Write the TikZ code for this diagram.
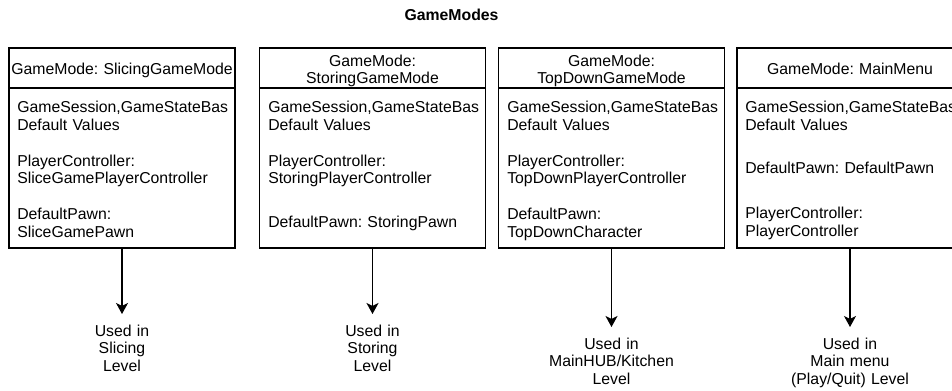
\documentclass[tikz,border=0pt]{standalone}
\usepackage{fontspec}
\setmainfont{Liberation Sans}
\usetikzlibrary{arrows.meta}
\frenchspacing
\begin{document}
\begin{tikzpicture}[x=0.75pt,y=-0.75pt,
  every node/.style={inner sep=0pt, font=\fontsize{11.85pt}{13.35pt}\selectfont},
  frame/.style={draw, line width=0.8pt, minimum width=169.5pt},
  head/.style={frame, minimum height=30pt},
  bodybox/.style={frame, minimum height=120pt},
  headtext/.style={anchor=base, text width=168pt, align=center,
    font=\fontsize{11.85pt}{12.75pt}\selectfont},
  bodytext/.style={anchor=base west, text width=163.5pt, align=left},
  usage/.style={anchor=north, text width=150pt, align=center, inner ysep=7.8pt},
  flow/.style={-{Stealth[length=8.25pt,width=9pt,inset=2.2pt]}, line width=0.8pt}
]
\useasboundingbox (0,0) rectangle (952,391);
\clip (0,0) rectangle (952,391);

% title
\node[anchor=base, font=\fontsize{11.85pt}{13.35pt}\selectfont\bfseries] (title) at (451.5,21) {GameModes};

% --- Slicing game mode
\node[head] (h1) at (122,68) {};
\node[bodybox] (b1) at (122,168) {};
\node[headtext] (ht1) at (122,74.5) {GameMode: SlicingGameMode};
\node[bodytext] (bt1) at (17,112.7) {GameSession,GameStateBas\\Default Values\\[13.35pt]PlayerController:\\SliceGamePlayerController\\[13.35pt]DefaultPawn:\\SliceGamePawn};
\node[usage] (u1) at (122,314) {Used in\\Slicing\\Level};
\draw[flow] (b1.south) -- (u1.north);

% --- Storing game mode
\node[head] (h2) at (372.5,68) {};
\node[bodybox] (b2) at (372.5,168) {};
\node[headtext] (ht2) at (372.5,66.5) {GameMode:\\StoringGameMode};
\node[bodytext] (bt2) at (268,112.7) {GameSession,GameStateBas\\Default Values\\[13.35pt]PlayerController:\\StoringPlayerController\\[19.7pt]DefaultPawn: StoringPawn};
\node[usage] (u2) at (372.5,314) {Used in\\Storing\\Level};
\draw[flow] (b2.south) -- (u2.north);

% --- Top-down game mode
\node[head] (h3) at (611.5,68) {};
\node[bodybox] (b3) at (611.5,168) {};
\node[headtext] (ht3) at (611.5,66.5) {GameMode:\\TopDownGameMode};
\node[bodytext] (bt3) at (507,112.7) {GameSession,GameStateBas\\Default Values\\[13.35pt]PlayerController:\\TopDownPlayerController\\[13.35pt]DefaultPawn:\\TopDownCharacter};
\node[usage] (u3) at (611.5,327) {Used in\\MainHUB/Kitchen\\Level};
\draw[flow] (b3.south) -- (u3.north);

% --- Main menu game mode
\node[head] (h4) at (850,68) {};
\node[bodybox] (b4) at (850,168) {};
\node[headtext] (ht4) at (850,74.5) {GameMode: MainMenu};
\node[bodytext] (bt4) at (745,112.7) {GameSession,GameStateBas\\Default Values\\[19pt]DefaultPawn: DefaultPawn\\[20.4pt]PlayerController:\\PlayerController};
\node[usage] (u4) at (850,327) {Used in\\Main menu\\(Play/Quit) Level};
\draw[flow] (b4.south) -- (u4.north);
\end{tikzpicture}
\end{document}
